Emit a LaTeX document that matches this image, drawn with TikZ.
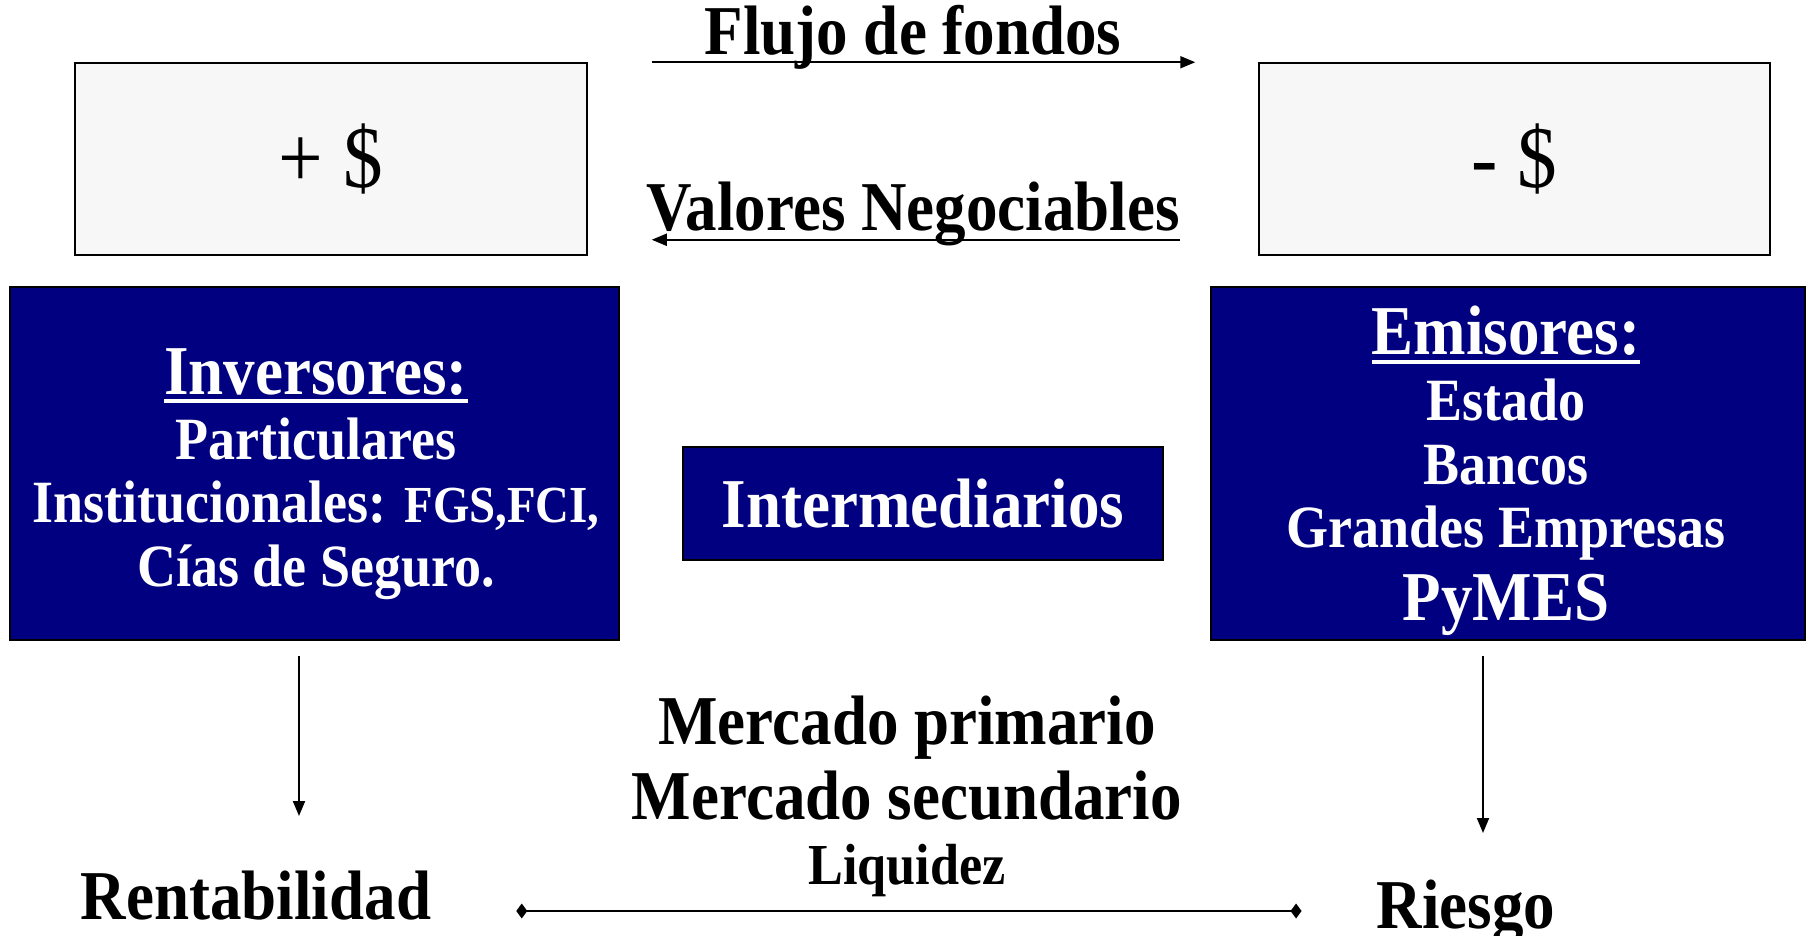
\documentclass[tikz,border=0pt]{standalone}
\usepackage{fontspec}
\setmainfont{Liberation Serif}[FakeStretch=0.9]
\usetikzlibrary{arrows.meta}
\definecolor{navy}{RGB}{0,0,128}
\definecolor{paleg}{RGB}{247,247,247}
\begin{document}
\begin{tikzpicture}[x=1pt,y=-1pt,
  txt/.style={inner sep=0pt, anchor=base},
  fbig/.style={font=\fontsize{70}{80}\selectfont\bfseries},
  fmid/.style={font=\fontsize{60}{70}\selectfont\bfseries},
  fliq/.style={font=\fontsize{58}{66}\selectfont\bfseries},
  fdollar/.style={font=\fontsize{88}{96}\selectfont},
  wtxt/.style={txt, text=white},
  btxt/.style={txt, text=black},
  navybox/.style={draw=black, line width=2pt, fill=navy, inner sep=0pt},
  greybox/.style={draw=black, line width=1.5pt, fill=paleg, inner sep=0pt},
  arr/.style={line width=2pt, -{Triangle[length=15pt,width=12pt]}},
  liqline/.style={line width=2pt, {Diamond[length=11pt,width=15pt]}-{Diamond[length=11pt,width=15pt]}},
  ul/.style={white, line width=3.5pt}
]
\useasboundingbox (0,0) rectangle (1808,936);
\fill[white] (0,0) rectangle (1808,936);

% top boxes
\node[greybox, minimum width=512pt, minimum height=192pt, fdollar] (plus) at (331,159) {+ \$};
\node[greybox, minimum width=511pt, minimum height=192pt, fdollar] (minus) at (1514.5,159) {- \$};

% navy boxes
\node[navybox, minimum width=609pt, minimum height=353pt] (inv) at (314.5,463.5) {};
\node[navybox, minimum width=594pt, minimum height=353pt] (emi) at (1508,463.5) {};
\node[navybox, minimum width=480pt, minimum height=113pt, text=white, fbig] (int) at (923,503.5) {Intermediarios};

% arrow labels
\node[btxt, fbig] (flujo) at (913,55) {Flujo de fondos};
\node[btxt, fbig] (valores) at (913,231) {Valores Negociables};

% Inversores text
\node[wtxt, fbig] (invh) at (316,394) {Inversores:};
\node[wtxt, fmid] (part) at (316,459) {Particulares};
\node[wtxt] (inst) at (316,522) {{\fontsize{60}{70}\selectfont\bfseries Institucionales: }{\fontsize{52}{60}\selectfont\bfseries FGS,FCI,}};
\node[wtxt, fmid] (cias) at (316,586) {Cías de Seguro.};
\draw[ul] ([yshift=-7pt]invh.base west) -- ([yshift=-7pt]invh.base east);

% Emisores text
\node[wtxt, fbig] (emih) at (1506,354) {Emisores:};
\node[wtxt, fmid] (estado) at (1506,420) {Estado};
\node[wtxt, fmid] (bancos) at (1506,484) {Bancos};
\node[wtxt, fmid] (grandes) at (1506,547) {Grandes Empresas};
\node[wtxt, fbig] (pymes) at (1506,620) {PyMES};
\draw[ul] ([yshift=-8pt]emih.base west) -- ([yshift=-8pt]emih.base east);

% lower texts
\node[btxt, fbig] (merc1) at (907,744) {Mercado primario};
\node[btxt, fbig] (merc2) at (907,819) {Mercado secundario};
\node[btxt, fliq] (liq) at (907,884) {Liquidez};
\node[btxt, fbig] (rent) at (256,919) {Rentabilidad};
\node[btxt, fbig] (ries) at (1466,928) {Riesgo};

% connectors
\draw[arr, shorten <=64pt, shorten >=63pt] (plus.north east) -- (minus.north west);
\draw[arr, shorten <=78pt, shorten >=64pt] ([yshift=16pt]minus.south west) -- ([yshift=16pt]plus.south east);

\coordinate (rx) at (299,0);
\coordinate (rx2) at (1483,0);
\coordinate (ly) at (0,911);
\draw[arr, shorten <=15pt] (inv.south -| rx) -- ([yshift=103pt]rent.base -| rx);
\draw[arr, shorten <=15pt] (emi.south -| rx2) -- ([yshift=95pt]ries.base -| rx2);
\draw[liqline, shorten <=85pt, shorten >=75pt] (rent.east |- ly) -- (ries.west |- ly);
\end{tikzpicture}
\end{document}
